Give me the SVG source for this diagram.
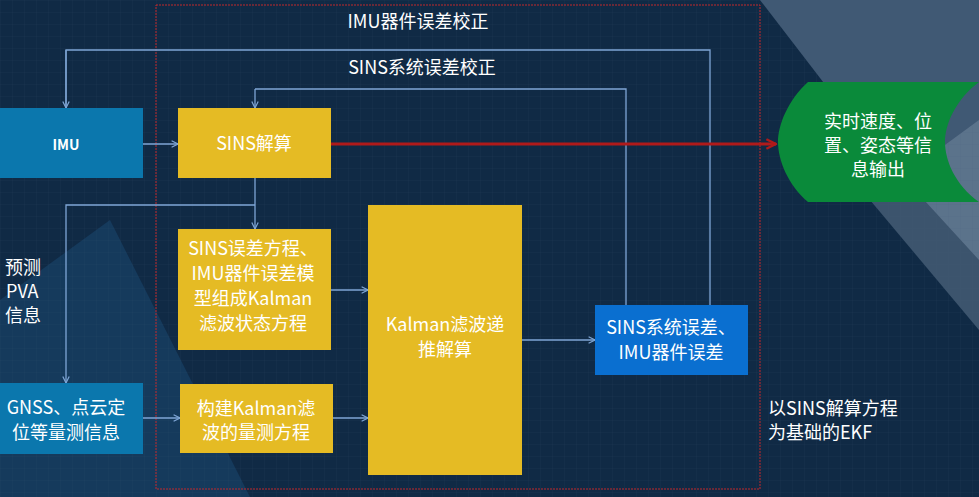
<svg xmlns="http://www.w3.org/2000/svg" width="979" height="497" viewBox="0 0 979 497">
<defs>
<pattern id="grid" width="12" height="12" patternUnits="userSpaceOnUse"><path d="M12 0H0V12" fill="none" stroke="#3a5a7a" stroke-opacity="0.25" stroke-width="0.6"/></pattern>
<marker id="ah" viewBox="0 0 10 10" refX="9" refY="5" markerWidth="8" markerHeight="8" orient="auto" markerUnits="userSpaceOnUse"><path d="M1 1L9 5L1 9" fill="none" stroke="#7fa6d6" stroke-width="1.5"/></marker>
<marker id="ahr" viewBox="0 0 10 10" refX="9" refY="5" markerWidth="12" markerHeight="12" orient="auto" markerUnits="userSpaceOnUse"><path d="M1 1L9 5L1 9" fill="none" stroke="#b01a1a" stroke-width="2"/></marker>
<style>
.y{fill:#e5bb24}
.b{fill:#0b77ad}
.t{font-family:"Noto Sans CJK SC","Liberation Sans",sans-serif;fill:#fff;text-anchor:middle;font-size:18px}
.l{text-anchor:start}
.c{fill:none;stroke:#7fa6d6;stroke-width:1.3}
</style>
</defs>
<rect width="979" height="497" fill="#102a45"/>
<polygon points="0,300 110,220 250,497 0,497" fill="#1a4a73" opacity="0.5"/>
<polygon points="760,0 979,0 979,260 860,130" fill="#7d93ad" opacity="0.45"/>
<polygon points="870,200 979,120 979,330" fill="#8ea2b8" opacity="0.35"/>
<rect width="979" height="497" fill="url(#grid)"/>
<rect x="156" y="5" width="604" height="484" fill="none" stroke="#c0282c" stroke-width="1" stroke-dasharray="2,1"/>
<g id="connectors">
<path class="c" d="M66,108V50H710V305"/>
<path class="c" d="M66,50V108" marker-end="url(#ah)"/>
<path class="c" d="M255,89H626V305"/>
<path class="c" d="M255,89V108" marker-end="url(#ah)"/>
<path class="c" d="M143,144H178" marker-end="url(#ah)"/>
<path class="c" d="M255,178V229" marker-end="url(#ah)"/>
<path class="c" d="M255,205H66V383" marker-end="url(#ah)"/>
<path class="c" d="M143,418H180" marker-end="url(#ah)"/>
<path class="c" d="M331,290H368" marker-end="url(#ah)"/>
<path class="c" d="M333,418H368" marker-end="url(#ah)"/>
<path class="c" d="M522,340H595" marker-end="url(#ah)"/>
<path d="M331,144H776" fill="none" stroke="#b01a1a" stroke-width="3" marker-end="url(#ahr)"/>
</g>
<text class="t" x="418" y="28">IMU器件误差校正</text>
<text class="t" x="422" y="74">SINS系统误差校正</text>
<g id="imu"><rect class="b" x="0" y="108" width="143" height="70"/><text class="t" x="66" y="150" style="font-size:14px;font-weight:bold">IMU</text></g>
<g id="sins"><rect class="y" x="178" y="108" width="153" height="70"/><text class="t" x="254" y="150">SINS解算</text></g>
<g id="err"><rect class="y" x="178" y="229" width="153" height="121"/>
<text class="t" x="253" y="255">SINS误差方程、</text><text class="t" x="253" y="280">IMU器件误差模</text><text class="t" x="253" y="305">型组成Kalman</text><text class="t" x="253" y="330">滤波状态方程</text></g>
<g id="meas"><rect class="y" x="180" y="384" width="153" height="69"/><text class="t" x="256" y="415">构建Kalman滤</text><text class="t" x="256" y="439">波的量测方程</text></g>
<g id="kf"><rect class="y" x="368" y="205" width="154" height="270"/><text class="t" x="445" y="331">Kalman滤波递</text><text class="t" x="445" y="356">推解算</text></g>
<g id="sys"><rect fill="#0a6fd0" x="595" y="305" width="153" height="70"/><text class="t" x="671" y="334">SINS系统误差、</text><text class="t" x="671" y="359">IMU器件误差</text></g>
<g id="gnss"><rect class="b" x="0" y="383" width="143" height="71"/><text class="t" x="66" y="414">GNSS、点云定</text><text class="t" x="66" y="439">位等量测信息</text></g>
<g id="out"><path d="M808,82H979C955,100 945,125 945,142C945,160 955,185 979,202H808C788,185 778,160 778,142C778,125 788,100 808,82Z" fill="#0a8a3a"/>
<text class="t" x="878" y="128">实时速度、位</text><text class="t" x="878" y="152">置、姿态等信</text><text class="t" x="878" y="176">息输出</text></g>
<text class="t l" x="5" y="274">预测</text>
<text class="t l" x="6" y="298">PVA</text>
<text class="t l" x="5" y="322">信息</text>
<text class="t l" x="768" y="415">以SINS解算方程</text>
<text class="t l" x="768" y="439">为基础的EKF</text>
</svg>
